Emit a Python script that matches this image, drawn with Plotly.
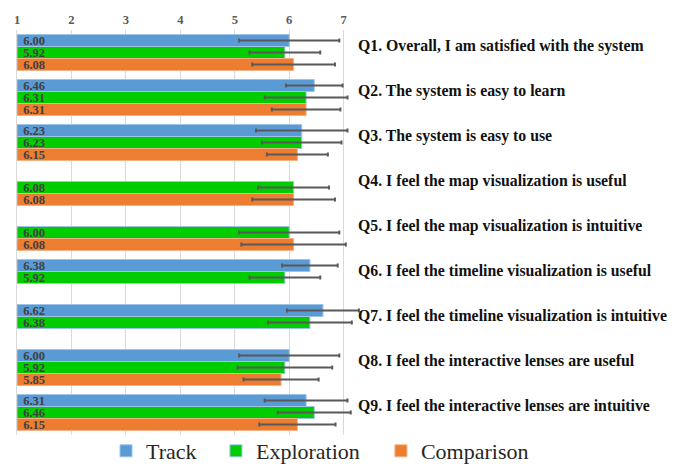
import plotly.graph_objects as go

categories = ["Q1", "Q2", "Q3", "Q4", "Q5", "Q6", "Q7", "Q8", "Q9"]
questions = [
    "Q1. Overall, I am satisfied with the system",
    "Q2. The system is easy to learn",
    "Q3. The system is easy to use",
    "Q4. I feel the map visualization is useful",
    "Q5. I feel the map visualization is intuitive",
    "Q6. I feel the timeline visualization is useful",
    "Q7. I feel the timeline visualization is intuitive",
    "Q8. I feel the interactive lenses are useful",
    "Q9. I feel the interactive lenses are intuitive",
]
track = [6.00, 6.46, 6.23, None, None, 6.38, 6.62, 6.00, 6.31]
track_err = [0.92, 0.52, 0.84, None, None, 0.51, 0.66, 0.92, 0.76]
exploration = [5.92, 6.31, 6.23, 6.08, 6.00, 5.92, 6.38, 5.92, 6.46]
exploration_err = [0.65, 0.76, 0.73, 0.65, 0.92, 0.65, 0.77, 0.87, 0.67]
comparison = [6.08, 6.31, 6.15, 6.08, 6.08, None, None, 5.85, 6.15]
comparison_err = [0.76, 0.63, 0.56, 0.76, 0.96, None, None, 0.69, 0.70]
x_ticks = [1, 2, 3, 4, 5, 6, 7]
scale_min = 1

# name, values, errors, fill, outline, legend id, legend x (paper)
series = [
    ("Track", track, track_err, "#5B9BD5", "#9DC3E6", "legend", 0.2595),
    ("Exploration", exploration, exploration_err, "#00CC00", "#9DC3E6", "legend2", 0.580),
    ("Comparison", comparison, comparison_err, "#ED7D31", "#F4B183", "legend3", 1.061),
]

SERIF = "Liberation Serif"
fig = go.Figure()
legends = {}
for name, vals, errs, color, lcolor, leg, lx in series:
    fig.add_trace(go.Bar(
        name=name,
        y=categories,
        x=[(v - scale_min) if v is not None else None for v in vals],
        base=scale_min,
        orientation="h",
        legend=leg,
        marker=dict(color=color, line=dict(color=lcolor, width=1)),
        text=["\u00a0" + f"{v:.2f}" if v is not None else "" for v in vals],
        textposition="inside",
        insidetextanchor="start",
        constraintext="none",
        textfont=dict(family=SERIF, size=12.5, color="#404040", weight="bold"),
        error_x=dict(type="data", array=errs, color="#595959", thickness=2, width=2, visible=True),
    ))
    legends[leg] = dict(
        orientation="h", xref="paper", yref="paper",
        x=lx, xanchor="left", y=-0.0395, yanchor="middle",
        font=dict(family=SERIF, size=22, color="#262626"),
        bgcolor="rgba(0,0,0,0)",
    )

for cat, q in zip(categories, questions):
    fig.add_annotation(
        x=1, xref="paper", y=cat, yref="y", text=q, showarrow=False,
        xanchor="left", yanchor="middle", xshift=-4, yshift=7,
        font=dict(family=SERIF, size=15.8, color="#111111", weight="bold"),
    )

fig.update_layout(
    width=685, height=464,
    margin=dict(l=9, r=333, t=22, b=37, autoexpand=False),
    paper_bgcolor="white", plot_bgcolor="white",
    barmode="group", bargap=0.2, bargroupgap=0,
    showlegend=True,
    **legends,
    xaxis=dict(
        side="top", range=[1, 7.3], tickvals=x_ticks,
        showgrid=True, gridcolor="#D9D9D9", gridwidth=1,
        zeroline=False, showline=False, ticks="",
        ticklabelstandoff=3,
        tickfont=dict(family=SERIF, size=12.5, color="#595959", weight="bold"),
    ),
    yaxis=dict(
        autorange="reversed", showticklabels=False, ticks="",
        showgrid=False, zeroline=False,
        showline=True, linecolor="#D9D9D9", linewidth=1,
    ),
)

fig.write_html("out.html")
